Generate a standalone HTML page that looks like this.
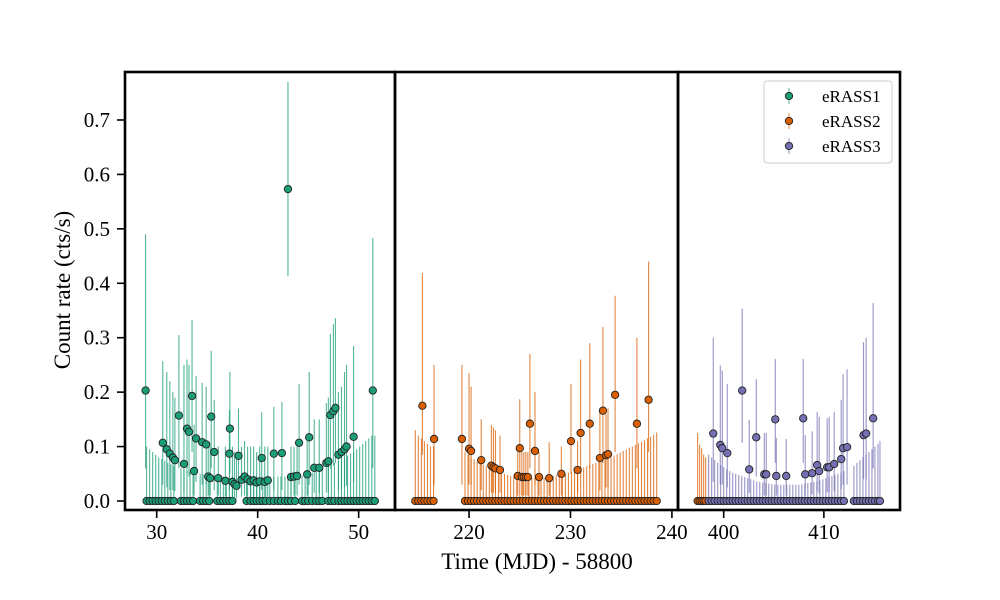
<!DOCTYPE html>
<html><head><meta charset="utf-8">
<style>
body{margin:0;background:#fff;}
svg{display:block;font-family:"Liberation Serif",serif;}
</style></head>
<body>
<svg id="chart" width="1000" height="600" viewBox="0 0 1000 600" xmlns="http://www.w3.org/2000/svg">
<rect width="1000" height="600" fill="#fff"/>
<g id="marks"></g>
<g id="axes"></g>
</svg>
<script>
// eRASS1 detections
const t1=[28.9,30.6,31.0,31.3,31.6,31.8,32.2,32.7,33.0,33.2,33.5,33.7,33.9,34.5,34.9,35.1,35.3,35.4,35.7,36.1,36.8,37.2,37.25,37.5,37.7,37.9,38.1,38.4,38.7,39.0,39.3,39.6,39.9,40.2,40.4,40.7,41.0,41.6,42.4,43.0,43.3,43.6,43.9,44.1,44.9,45.1,45.6,46.1,46.8,47.0,47.2,47.5,47.7,48.0,48.3,48.6,48.8,49.5,51.4];
const y1=[0.203,0.107,0.095,0.087,0.08,0.075,0.157,0.068,0.133,0.127,0.193,0.055,0.115,0.108,0.104,0.045,0.042,0.155,0.09,0.042,0.037,0.087,0.133,0.035,0.031,0.028,0.083,0.039,0.045,0.04,0.036,0.038,0.034,0.036,0.079,0.035,0.038,0.087,0.088,0.573,0.044,0.045,0.046,0.107,0.049,0.117,0.061,0.061,0.07,0.073,0.158,0.165,0.171,0.085,0.09,0.095,0.1,0.118,0.203];
const hi1=[0.49,0.257,0.237,0.22,0.2,0.19,0.305,0.25,0.26,0.25,0.333,0.14,0.23,0.217,0.21,0.11,0.1,0.276,0.186,0.1,0.1,0.167,0.237,0.1,0.09,0.09,0.17,0.1,0.11,0.1,0.1,0.1,0.09,0.1,0.163,0.1,0.1,0.173,0.182,0.77,0.1,0.1,0.1,0.215,0.11,0.237,0.15,0.15,0.18,0.19,0.307,0.325,0.336,0.2,0.21,0.237,0.25,0.285,0.483];
const lo1=[0.06,0.03,0.025,0.02,0.02,0.018,0.06,0.015,0.05,0.045,0.09,0.01,0.035,0.03,0.03,0.01,0.01,0.06,0.02,0.01,0.008,0.02,0.05,0.005,0.005,0.005,0.02,0.008,0.01,0.008,0.006,0.008,0.006,0.007,0.02,0.006,0.008,0.02,0.02,0.413,0.01,0.01,0.01,0.03,0.01,0.03,0.015,0.015,0.015,0.017,0.06,0.065,0.07,0.02,0.022,0.025,0.028,0.035,0.06];
// eRASS1 zero-rate scans
const z1t=[29.0,29.3,29.6,29.9,30.2,30.5,30.8,31.1,31.4,31.7,32.4,32.7,33.0,33.3,33.6,34.3,34.6,34.9,35.2,36.0,36.3,36.6,36.9,37.2,37.5,38.9,39.3,39.6,39.9,40.2,40.5,40.8,41.2,41.6,42.0,42.3,42.7,43.0,43.3,43.7,44.4,44.7,45.0,45.4,45.8,46.1,46.4,47.0,47.3,47.6,48.0,48.3,48.6,48.9,49.2,49.5,49.8,50.1,50.4,50.7,51.0,51.3,51.6];
const z1h=[0.1,0.095,0.09,0.085,0.08,0.077,0.074,0.07,0.067,0.064,0.06,0.058,0.056,0.054,0.052,0.05,0.049,0.048,0.047,0.046,0.045,0.045,0.045,0.045,0.045,0.045,0.045,0.045,0.045,0.045,0.045,0.045,0.045,0.045,0.045,0.045,0.045,0.045,0.045,0.045,0.046,0.048,0.05,0.052,0.055,0.058,0.06,0.065,0.068,0.07,0.073,0.076,0.08,0.083,0.087,0.09,0.095,0.1,0.105,0.11,0.115,0.12,0.12];
// eRASS2 detections
const t2=[215.4,216.55,219.3,220.0,220.2,221.2,222.2,222.4,222.6,223.05,224.8,225.0,225.2,225.4,225.6,225.8,226.0,226.5,226.9,227.9,229.1,230.05,230.7,231.0,231.9,232.9,233.2,233.5,233.7,234.4,236.55,237.7];
const y2=[0.175,0.114,0.114,0.096,0.092,0.075,0.065,0.062,0.06,0.057,0.046,0.097,0.044,0.044,0.044,0.044,0.142,0.092,0.044,0.042,0.05,0.11,0.057,0.125,0.142,0.079,0.166,0.084,0.086,0.195,0.142,0.186];
const hi2=[0.419,0.25,0.25,0.235,0.21,0.15,0.14,0.135,0.13,0.12,0.1,0.187,0.09,0.09,0.09,0.09,0.27,0.2,0.09,0.108,0.1,0.215,0.11,0.26,0.29,0.17,0.32,0.16,0.17,0.377,0.3,0.44];
const lo2=[0.085,0.03,0.03,0.03,0.03,0.02,0.015,0.015,0.015,0.015,0.01,0.04,0.01,0.01,0.01,0.01,0.06,0.03,0.01,0.01,0.01,0.05,0.015,0.05,0.06,0.02,0.07,0.025,0.025,0.09,0.06,0.09];
const z2t=[214.7,215.0,215.3,215.6,215.9,216.2,216.5,219.6,219.9,220.2,220.5,220.8,221.1,221.4,221.7,222.0,222.3,222.6,222.9,223.2,223.5,223.8,224.1,224.4,224.7,225.0,225.3,225.6,225.9,226.2,226.5,226.8,227.1,227.4,227.7,228.0,228.3,228.6,228.9,229.2,229.5,229.8,230.1,230.4,230.7,231.0,231.3,231.6,231.9,232.2,232.5,232.8,233.1,233.4,233.7,234.0,234.3,234.6,234.9,235.2,235.5,235.8,236.1,236.4,236.7,237.0,237.3,237.6,237.9,238.2,238.5,397.4,397.6,397.8,398.0,398.2];
const z2h=[0.13,0.12,0.115,0.11,0.105,0.1,0.1,0.09,0.085,0.08,0.077,0.073,0.07,0.067,0.064,0.061,0.058,0.056,0.054,0.052,0.05,0.048,0.046,0.045,0.044,0.043,0.042,0.042,0.042,0.042,0.042,0.042,0.042,0.043,0.044,0.045,0.046,0.047,0.048,0.05,0.05,0.052,0.054,0.056,0.058,0.06,0.062,0.064,0.066,0.068,0.07,0.072,0.074,0.076,0.078,0.08,0.083,0.086,0.089,0.092,0.095,0.098,0.1,0.103,0.106,0.109,0.112,0.115,0.118,0.122,0.126,0.125,0.103,0.097,0.085,0.08];
// eRASS3 detections
const t3=[398.96,399.66,399.86,400.36,401.85,402.55,403.25,404.05,404.25,405.15,405.25,406.24,407.94,408.14,408.83,409.33,409.53,410.33,410.53,411.03,411.73,411.92,412.32,413.96,414.22,414.92];
const y3=[0.124,0.103,0.097,0.088,0.203,0.058,0.117,0.049,0.049,0.15,0.046,0.046,0.152,0.049,0.051,0.066,0.055,0.062,0.062,0.068,0.077,0.097,0.099,0.121,0.124,0.152];
const hi3=[0.3,0.249,0.24,0.215,0.353,0.149,0.224,0.125,0.125,0.261,0.116,0.114,0.261,0.121,0.128,0.164,0.155,0.152,0.155,0.164,0.186,0.233,0.242,0.292,0.3,0.364];
const lo3=[0.035,0.03,0.03,0.025,0.107,0.015,0.045,0.01,0.01,0.07,0.01,0.01,0.07,0.01,0.012,0.018,0.014,0.016,0.016,0.018,0.022,0.03,0.03,0.04,0.04,0.06];
const z3t=[398.5,398.8,399.1,399.4,399.7,400.0,400.3,400.6,400.9,401.2,401.5,401.8,402.1,402.4,402.7,403.0,403.3,403.6,403.9,404.2,404.5,404.8,405.1,405.4,405.7,406.0,406.3,406.6,406.9,407.2,407.5,407.8,408.1,408.4,408.7,409.0,409.3,409.6,409.9,410.2,410.5,410.8,411.1,411.4,411.7,412.0,413.0,413.3,413.6,413.9,414.2,414.5,414.8,415.1,415.4,415.6];
const z3h=[0.085,0.08,0.075,0.07,0.066,0.062,0.058,0.055,0.052,0.05,0.048,0.046,0.044,0.042,0.04,0.038,0.036,0.035,0.034,0.033,0.032,0.031,0.03,0.03,0.03,0.03,0.03,0.03,0.03,0.03,0.03,0.031,0.032,0.033,0.034,0.035,0.036,0.038,0.04,0.042,0.044,0.046,0.048,0.05,0.052,0.055,0.065,0.07,0.075,0.08,0.085,0.09,0.095,0.1,0.105,0.11];
const yTicks=[0.0,0.1,0.2,0.3,0.4,0.5,0.6,0.7];
const p1Ticks=[30,40,50], p2Ticks=[220,230,240], p3Ticks=[400,410];

const NS='http://www.w3.org/2000/svg';
const panels=[
 {x0:125,x1:395,t0:26.86,t1:53.6},
 {x0:395,x1:678,t0:212.7,t1:240.6},
 {x0:678,x1:900,t0:395.44,t1:417.6}];
const Y0=72,Y1=510;
function yScale(v){return 501-v*544.3;}
function panelFor(t){return t<150?0:(t<300?1:2);}
function xScale(t){const p=panels[panelFor(t)];return p.x0+(t-p.t0)/(p.t1-p.t0)*(p.x1-p.x0);}
function mk(tag,attrs,parent){const e=document.createElementNS(NS,tag);for(const k in attrs)e.setAttribute(k,attrs[k]);parent.appendChild(e);return e;}
const marks=document.getElementById('marks');
const axes=document.getElementById('axes');
const defs=mk('defs',{},marks);
panels.forEach((p,i)=>{const c=mk('clipPath',{id:'clip'+i},defs);mk('rect',{x:p.x0,y:Y0,width:p.x1-p.x0,height:Y1-Y0},c);});
const groups=panels.map((p,i)=>mk('g',{'clip-path':'url(#clip'+i+')'},marks));
const COL=['#1b9e77','#d95f02','#7570b3'];
function drawSeries(ts,ys,his,los,ci,name){
 const n=Math.min(ts.length,ys.length,his.length,los.length);
 for(let i=0;i<n;i++){
  const g=groups[panelFor(ts[i])];const x=xScale(ts[i]);
  const l=mk('line',{x1:x,x2:x,y1:yScale(los[i]),y2:yScale(his[i]),stroke:COL[ci],'stroke-opacity':0.75,'stroke-width':1.1},g);
  
  
 }
 for(let i=0;i<n;i++){
  const g=groups[panelFor(ts[i])];
  const c=mk('circle',{cx:xScale(ts[i]),cy:yScale(ys[i]),r:3.7,fill:COL[ci],stroke:'#222','stroke-width':0.9},g);
  
  
 }
}
function zeros(ts,hs){const n=Math.min(ts.length,hs.length);return {t:ts.slice(0,n),y:ts.slice(0,n).map(()=>0),h:hs.slice(0,n),l:ts.slice(0,n).map(()=>0)};}
const Z1=zeros(z1t,z1h),Z2=zeros(z2t,z2h),Z3=zeros(z3t,z3h);
drawSeries(Z1.t,Z1.y,Z1.h,Z1.l,0,'erass1-zero');
drawSeries(t1,y1,hi1,lo1,0,'erass1');
drawSeries(Z2.t,Z2.y,Z2.h,Z2.l,1,'erass2-zero');
drawSeries(t2,y2,hi2,lo2,1,'erass2');
drawSeries(Z3.t,Z3.y,Z3.h,Z3.l,2,'erass3-zero');
drawSeries(t3,y3,hi3,lo3,2,'erass3');

panels.forEach((p,i)=>{const r=mk('rect',{x:p.x0,y:Y0,width:p.x1-p.x0,height:Y1-Y0,fill:'none',stroke:'#000','stroke-width':2.6},axes);
 
 });
yTicks.forEach(v=>{const y=yScale(v);
 mk('line',{x1:117,x2:125,y1:y,y2:y,stroke:'#000','stroke-width':1.6},axes);
 const t=mk('text',{x:110,y:y+7,'text-anchor':'end','font-size':21,fill:'#000'},axes);t.textContent=v.toFixed(1);
 
 });
[p1Ticks,p2Ticks,p3Ticks].forEach(arr=>arr.forEach(v=>{const x=xScale(v);
 mk('line',{x1:x,x2:x,y1:510,y2:518,stroke:'#000','stroke-width':1.6},axes);
 const t=mk('text',{x:x,y:539,'text-anchor':'middle','font-size':21,fill:'#000'},axes);t.textContent=v;
 
 }));
</script>
<script>
const s=document.getElementById('chart');
function T(x,y,txt,attrs,name){const e=document.createElementNS(NS,'text');e.setAttribute('x',x);e.setAttribute('y',y);for(const k in attrs)e.setAttribute(k,attrs[k]);e.textContent=txt;s.appendChild(e);
 
 return e;}
T(537,569,'Time (MJD) - 58800',{'text-anchor':'middle','font-size':23},'x-axis-title');
T(70,290,'Count rate (cts/s)',{'text-anchor':'middle','font-size':23,transform:'rotate(-90 70 290)'},'y-axis-title');
const lg=document.createElementNS(NS,'g');s.appendChild(lg);


const box=document.createElementNS(NS,'rect');
[['x',764],['y',81],['width',128],['height',82],['rx',3],['fill','#fff'],['fill-opacity',0.8],['stroke','#ccc'],['stroke-width',1]].forEach(a=>box.setAttribute(a[0],a[1]));lg.appendChild(box);
['eRASS1','eRASS2','eRASS3'].forEach((n,i)=>{const y=96+i*25;
 const l=document.createElementNS(NS,'line');[['x1',789],['x2',789],['y1',y-8],['y2',y+8],['stroke',COL[i]],['stroke-opacity',0.75]].forEach(a=>l.setAttribute(a[0],a[1]));lg.appendChild(l);
 const c=document.createElementNS(NS,'circle');[['cx',789],['cy',y],['r',3.7],['fill',COL[i]],['stroke','#222'],['stroke-width',0.9]].forEach(a=>c.setAttribute(a[0],a[1]));lg.appendChild(c);
 
 
 const t=document.createElementNS(NS,'text');t.setAttribute('x',822);t.setAttribute('y',y+6);t.setAttribute('font-size',17);t.textContent=n;lg.appendChild(t);
 
 
});
</script>
</body></html>
